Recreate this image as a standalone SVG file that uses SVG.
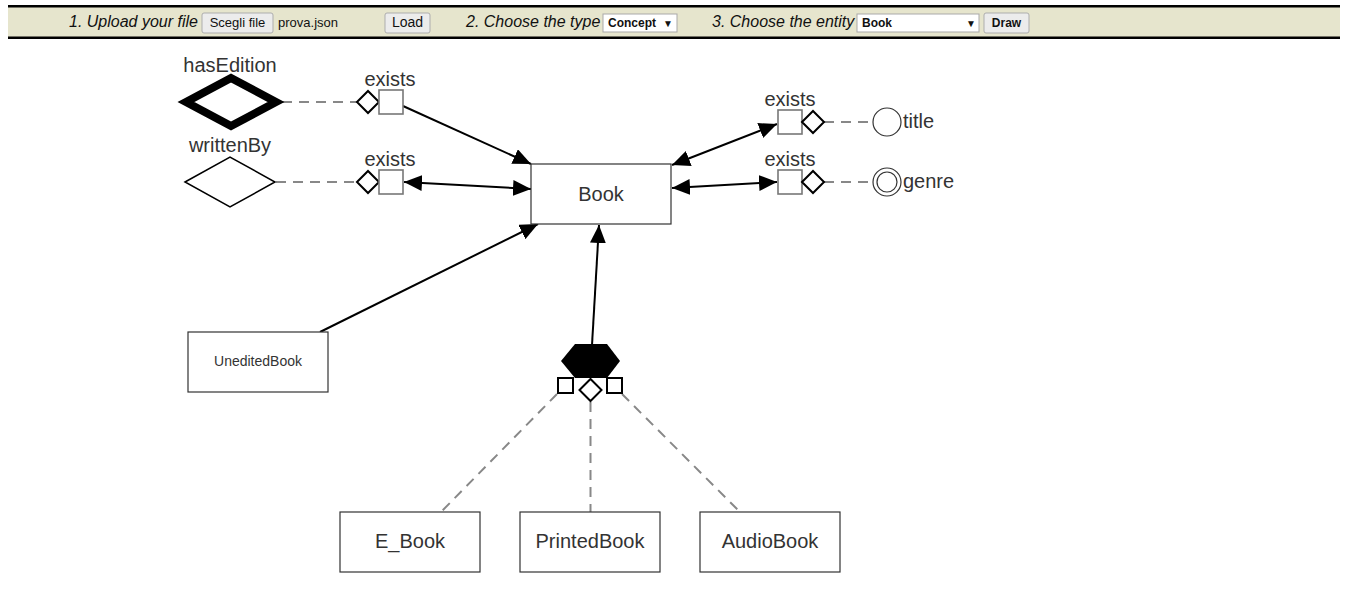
<svg xmlns="http://www.w3.org/2000/svg" width="1346" height="614" viewBox="0 0 1346 614">
<defs>
<style>
text{font-family:"Liberation Sans",Arial,sans-serif;fill:#333}
.lbl{font-size:20px}
.tb{font-size:16px;font-style:italic;fill:#111}
.btn{fill:#ececec;stroke:#adadad;stroke-width:1}
.sel{fill:#fff;stroke:#a9a9a9;stroke-width:1}
.bt{font-size:13px;fill:#111}
.bb{font-size:12px;font-weight:bold;fill:#111}
.node{fill:#fff;stroke:#333;stroke-width:1.2}
.sq{fill:#fff;stroke:#777;stroke-width:1.6}
.dm{fill:#fff;stroke:#000;stroke-width:2}
.dash{stroke:#888;stroke-width:2;stroke-dasharray:10,7;fill:none}
.arr{stroke:#000;stroke-width:2;fill:none}
</style>
<marker id="ah" viewBox="0 0 18 16" refX="18" refY="8" markerWidth="18" markerHeight="16" markerUnits="userSpaceOnUse" orient="auto-start-reverse">
<path d="M0,0 L18,8 L0,16 z" fill="#000"/>
</marker>
</defs>
<rect width="1346" height="614" fill="#fff"/>
<g id="toolbar">
<rect x="8" y="6" width="1332" height="32" fill="#E6E5CD"/>
<rect x="8" y="5" width="1332" height="2.5" fill="#000"/>
<rect x="8" y="36.5" width="1332" height="2.5" fill="#000"/>
<text class="tb" x="69" y="27">1. Upload your file</text>
<rect class="btn" x="202" y="13" width="71" height="20" rx="2"/>
<text class="bt" x="237.5" y="27" text-anchor="middle">Scegli file</text>
<text class="bt" x="278" y="27">prova.json</text>
<rect class="btn" x="385" y="13" width="45" height="20" rx="2"/>
<text class="bt" x="407.5" y="27" text-anchor="middle" style="font-size:14px">Load</text>
<text class="tb" x="466" y="27">2. Choose the type</text>
<rect class="sel" x="603" y="14" width="74" height="18"/>
<text class="bb" x="608" y="27">Concept</text>
<text class="bb" x="663" y="27" style="font-size:10px">▼</text>
<text class="tb" x="712" y="27">3. Choose the entity</text>
<rect class="sel" x="857" y="14" width="122" height="18"/>
<text class="bb" x="862" y="27">Book</text>
<text class="bb" x="966" y="27" style="font-size:10px">▼</text>
<rect class="btn" x="984" y="13" width="45" height="20" rx="2"/>
<text class="bb" x="1006.5" y="27" text-anchor="middle">Draw</text>
</g>
<g id="connectors">
<line class="dash" x1="282" y1="102" x2="357" y2="102"/>
<line class="dash" x1="276" y1="182" x2="357" y2="182"/>
<line class="dash" x1="824" y1="122" x2="873" y2="122"/>
<line class="dash" x1="824" y1="182" x2="873" y2="182"/>
<line class="dash" x1="557" y1="394" x2="441" y2="512"/>
<line class="dash" x1="590.5" y1="402" x2="590.5" y2="512"/>
<line class="dash" x1="622" y1="394" x2="740" y2="512"/>
<line class="arr" x1="403" y1="106" x2="531" y2="164" marker-end="url(#ah)"/>
<line class="arr" x1="404" y1="182" x2="531" y2="189" marker-start="url(#ah)" marker-end="url(#ah)"/>
<line class="arr" x1="672" y1="165" x2="777" y2="124" marker-start="url(#ah)" marker-end="url(#ah)"/>
<line class="arr" x1="672" y1="188" x2="777" y2="182" marker-start="url(#ah)" marker-end="url(#ah)"/>
<line class="arr" x1="320" y1="332" x2="538" y2="224" marker-end="url(#ah)"/>
<line class="arr" x1="592" y1="345" x2="599" y2="225" marker-end="url(#ah)"/>
</g>
<g id="node-book">
<rect class="node" x="531" y="164" width="140" height="60"/>
<text class="lbl" x="601" y="201" text-anchor="middle">Book</text>
</g>
<g id="node-hasEdition">
<polygon points="186,102 231,78 276,102 231,126" fill="#fff" stroke="#000" stroke-width="8"/>
<text class="lbl" x="230" y="72" text-anchor="middle">hasEdition</text>
</g>
<g id="node-writtenBy">
<polygon points="185,182 230,157 275,182 230,207" fill="#fff" stroke="#000" stroke-width="1.5"/>
<text class="lbl" x="230" y="152" text-anchor="middle">writtenBy</text>
</g>
<g id="exists-hasEdition">
<polygon class="dm" points="357,102 368,91 379,102 368,113"/>
<rect class="sq" x="379" y="90" width="24" height="24"/>
<text class="lbl" x="390" y="86" text-anchor="middle">exists</text>
</g>
<g id="exists-writtenBy">
<polygon class="dm" points="357,182 368,171 379,182 368,193"/>
<rect class="sq" x="379" y="170" width="24" height="24"/>
<text class="lbl" x="390" y="166" text-anchor="middle">exists</text>
</g>
<g id="exists-title">
<rect class="sq" x="778" y="110" width="24" height="24"/>
<polygon class="dm" points="802,122 813,111 824,122 813,133"/>
<text class="lbl" x="790" y="106" text-anchor="middle">exists</text>
</g>
<g id="exists-genre">
<rect class="sq" x="778" y="170" width="24" height="24"/>
<polygon class="dm" points="802,182 813,171 824,182 813,193"/>
<text class="lbl" x="790" y="166" text-anchor="middle">exists</text>
</g>
<g id="attr-title">
<circle cx="887" cy="122" r="14" fill="#fff" stroke="#333" stroke-width="1.2"/>
<text class="lbl" x="903" y="128">title</text>
</g>
<g id="attr-genre">
<circle cx="887" cy="182" r="14" fill="#fff" stroke="#333" stroke-width="1.2"/>
<circle cx="887" cy="182" r="10" fill="#fff" stroke="#333" stroke-width="1.2"/>
<text class="lbl" x="903" y="188">genre</text>
</g>
<g id="node-uneditedBook">
<rect class="node" x="188" y="332" width="140" height="60"/>
<text x="258" y="366" text-anchor="middle" style="font-size:14px">UneditedBook</text>
</g>
<g id="node-isa">
<polygon points="561,361 575,344 607,344 620,361 607,378 575,378" fill="#000"/>
<rect x="558" y="378" width="15" height="15" fill="#fff" stroke="#000" stroke-width="2"/>
<rect x="607" y="378" width="15" height="15" fill="#fff" stroke="#000" stroke-width="2"/>
<polygon class="dm" points="579.5,390 590.5,379 601.5,390 590.5,401"/>
</g>
<g id="node-ebook">
<rect class="node" x="340" y="512" width="140" height="60"/>
<text class="lbl" x="410" y="548" text-anchor="middle">E_Book</text>
</g>
<g id="node-printedBook">
<rect class="node" x="520" y="512" width="140" height="60"/>
<text class="lbl" x="590" y="548" text-anchor="middle">PrintedBook</text>
</g>
<g id="node-audioBook">
<rect class="node" x="700" y="512" width="140" height="60"/>
<text class="lbl" x="770" y="548" text-anchor="middle">AudioBook</text>
</g>
</svg>
